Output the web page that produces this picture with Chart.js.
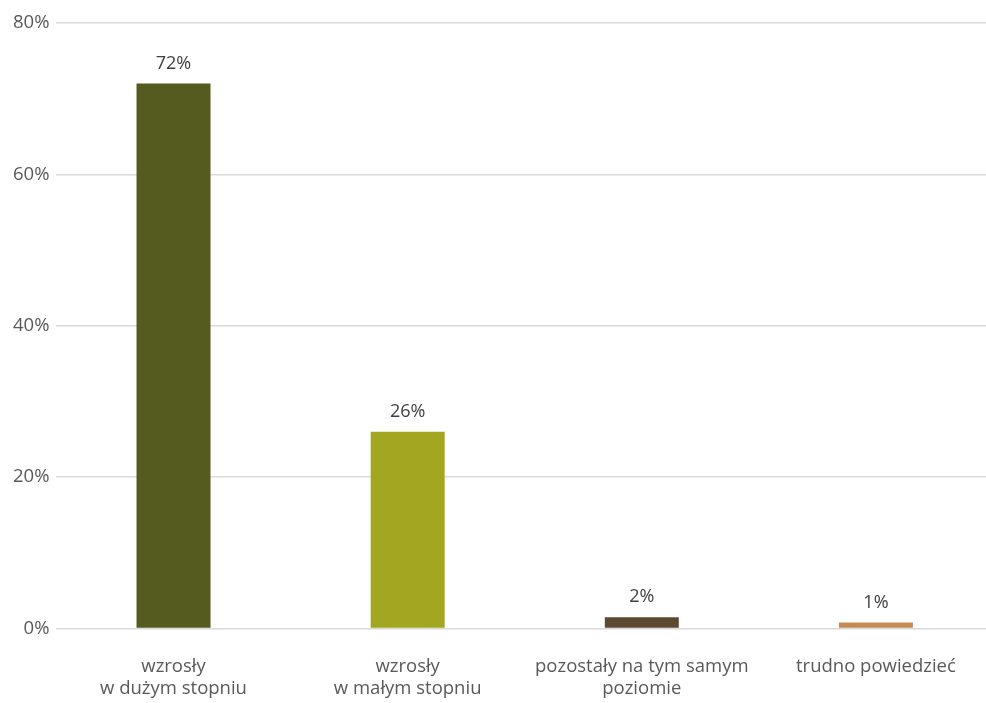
<!DOCTYPE html>
<html>
<head>
<meta charset="utf-8">
<script src="https://cdn.jsdelivr.net/npm/chart.js@4/dist/chart.umd.min.js"></script>
<style>
  html, body { margin: 0; padding: 0; background: #fff; overflow: hidden; }
  #wrap { width: 993px; height: 703px; }
</style>
</head>
<body>
<div id="wrap"><canvas id="chart"></canvas></div>
<script>
const categories = [
    ['wzrosły', 'w dużym stopniu'],
    ['wzrosły', 'w małym stopniu'],
    ['pozostały na tym samym', 'poziomie'],
    'trudno powiedzieć'
];
const values = [72, 26, 1.5, 0.8];
const valueLabels = ['72%', '26%', '2%', '1%'];
const barColors = ['#555a1f', '#a2a620', '#5c4a30', '#c48a55'];
const yTicks = [0, 20, 40, 60, 80];

const textColor = '#595959';
const fontFamily = '"Open Sans", "Noto Sans", sans-serif';

// draw the value above each bar
const valueLabelPlugin = {
    id: 'valueLabels',
    afterDatasetsDraw(chart) {
        const ctx = chart.ctx;
        const meta = chart.getDatasetMeta(0);
        ctx.save();
        ctx.fillStyle = '#404040';
        ctx.font = '18px ' + fontFamily;
        ctx.textAlign = 'center';
        ctx.textBaseline = 'middle';
        meta.data.forEach((bar, i) => {
            ctx.fillText(valueLabels[i], bar.x, bar.y - 20);
        });
        ctx.restore();
    }
};

new Chart(document.getElementById('chart'), {
    type: 'bar',
    data: {
        labels: categories,
        datasets: [{
            data: values,
            backgroundColor: barColors,
            categoryPercentage: 1,
            barPercentage: 0.316
        }]
    },
    options: {
        responsive: true,
        maintainAspectRatio: false,
        animation: false,
        layout: { padding: { top: 23, right: 0, left: 6, bottom: -16 } },
        plugins: {
            legend: { display: false },
            tooltip: { enabled: false }
        },
        scales: {
            x: {
                grid: { display: false },
                border: { display: false },
                ticks: {
                    color: textColor,
                    font: { size: 18.5, family: fontFamily, lineHeight: 1.2 },
                    maxRotation: 0,
                    autoSkip: false,
                    padding: 19
                }
            },
            y: {
                min: 0,
                max: 80,
                afterBuildTicks(axis) {
                    axis.ticks = yTicks.map(v => ({ value: v }));
                },
                grid: { color: '#d9d9d9', lineWidth: 1.5, drawTicks: false },
                border: { display: false },
                ticks: {
                    color: textColor,
                    font: { size: 18.5, family: fontFamily },
                    padding: 7,
                    callback: v => v + '%'
                }
            }
        }
    },
    plugins: [valueLabelPlugin]
});
</script>
</body>
</html>
